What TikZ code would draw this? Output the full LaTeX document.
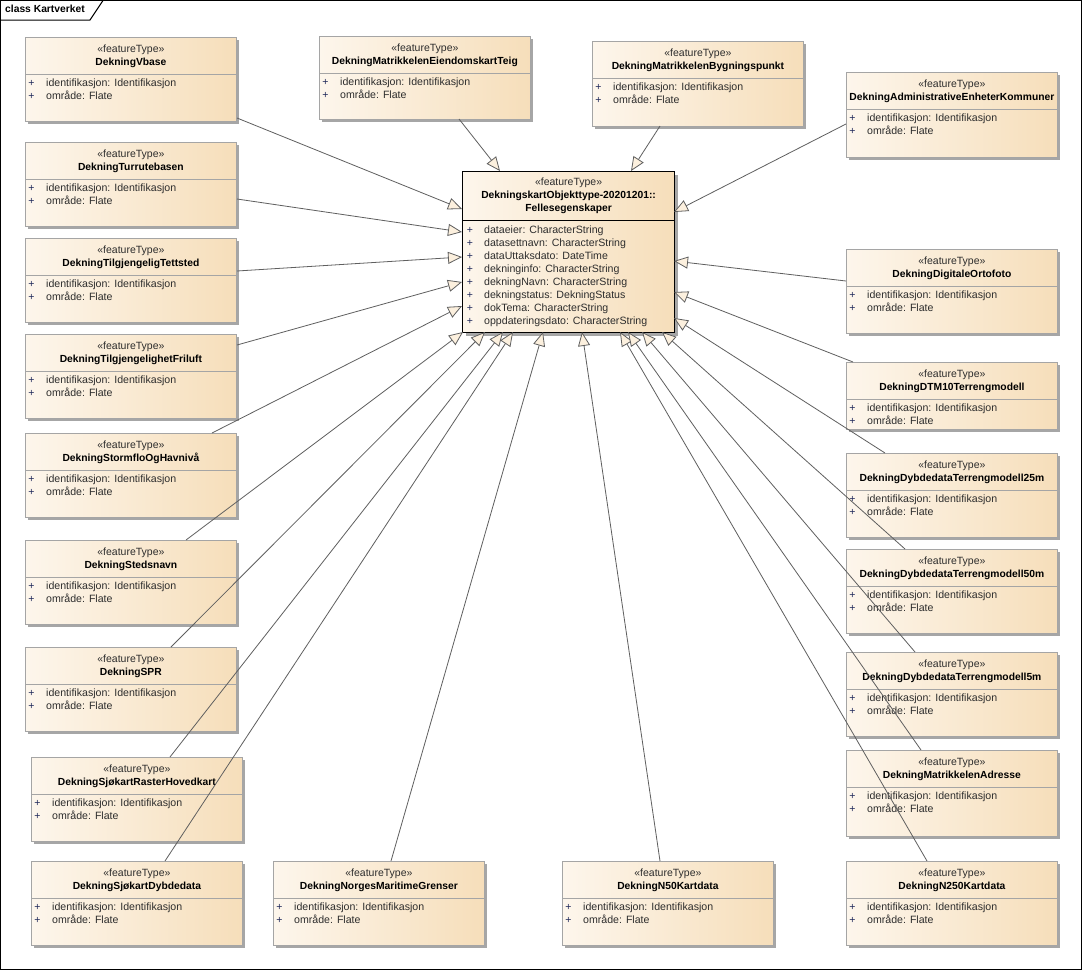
\documentclass[tikz,border=0pt]{standalone}
\usepackage{fontspec}
\setmainfont{Liberation Sans}
\usetikzlibrary{arrows.meta,calc,shadows}
\definecolor{boxL}{RGB}{253,246,236}
\definecolor{boxR}{RGB}{246,222,186}
\definecolor{boxline}{RGB}{165,165,165}
\definecolor{conn}{RGB}{95,95,95}
\definecolor{headfill}{RGB}{252,240,222}
\definecolor{txt}{RGB}{45,45,45}
\definecolor{plus}{RGB}{30,40,90}
\tikzset{
  ftbox/.style={draw=boxline, line width=0.8pt, left color=boxL, right color=boxR,
    anchor=north west, inner sep=0pt, minimum width=211pt,
    drop shadow={shadow xshift=3pt, shadow yshift=-3pt, fill=black!35, opacity=1}},
  corebox/.style={draw=black, line width=1.2pt, left color=boxL, right color=boxR,
    anchor=north west, inner sep=0pt, minimum width=212pt, minimum height=161pt,
    drop shadow={shadow xshift=3pt, shadow yshift=-3pt, fill=black!35, opacity=1}},
  divline/.style={draw=boxline, line width=0.8pt},
  stereo/.style={font=\fontsize{10.5}{12}\selectfont, text=txt, inner sep=0pt, anchor=mid},
  cname/.style={font=\fontsize{10.3}{12}\selectfont\bfseries, text=black, inner sep=0pt, anchor=mid},
  attr/.style={font=\fontsize{10.6}{12}\selectfont, text=txt, inner sep=0pt, anchor=mid west},
  plussign/.style={font=\fontsize{10.5}{12}\selectfont, text=plus, inner sep=0pt, anchor=mid},
  gen/.style={draw=conn, line width=0.8pt,
    -{Triangle[length=14pt,width=12pt,fill=headfill,line width=0.8pt]}},
}
\newcommand\ftb[5]{%
  \node[ftbox, minimum height=#4] (#1) at (#2,#3) {};
  \draw[divline] ($(#1.north west)+(0,37)$) -- ($(#1.north east)+(0,37)$);
  \node[stereo] (#1-s) at ($(#1.north)+(0,13)$) {«featureType»};
  \node[cname] (#1-n) at ($(#1.north)+(0,25.5)$) {#5};
  \node[plussign] (#1-p1) at ($(#1.north west)+(6.5,47)$) {+};
  \node[plussign] (#1-p2) at ($(#1.north west)+(6.5,60)$) {+};
  \node[attr] (#1-a1) at ($(#1.north west)+(21,47)$) {identifikasjon: Identifikasjon};
  \node[attr] (#1-a2) at ($(#1.north west)+(21,60)$) {område: Flate};
}
\begin{document}
\begin{tikzpicture}[x=1pt,y=-1pt]
\useasboundingbox (0,0) rectangle (1082,970);
\fill[white] (0,0) rectangle (1082,970);
\draw[black, line width=1pt] (0.5,0.5) rectangle (1081.5,969.5);
\draw[black, line width=1pt] (0.5,20) -- (90,20) -- (103,0.5);
\node[font=\fontsize{10.3}{12}\selectfont\bfseries, anchor=mid west, inner sep=0pt] (frametitle) at (5,10) {class Kartverket};

% left column
\ftb{vbase}{25}{37}{84}{DekningVbase}
\ftb{turrute}{25}{142}{84}{DekningTurrutebasen}
\ftb{tettsted}{25}{238}{84}{DekningTilgjengeligTettsted}
\ftb{friluft}{25}{334}{84}{DekningTilgjengelighetFriluft}
\ftb{storm}{25}{433}{84}{DekningStormfloOgHavnivå}
\ftb{steds}{25}{540}{84}{DekningStedsnavn}
\ftb{spr}{25}{647}{84}{DekningSPR}
\ftb{raster}{31}{757}{84}{DekningSjøkartRasterHovedkart}
\ftb{dybde}{31}{861}{84}{DekningSjøkartDybdedata}
% bottom row
\ftb{maritime}{273}{861}{84}{DekningNorgesMaritimeGrenser}
\ftb{nfifty}{562}{861}{84}{DekningN50Kartdata}
\ftb{ntwofifty}{846}{861}{84}{DekningN250Kartdata}
% right column
\ftb{admin}{846}{72}{85}{DekningAdministrativeEnheterKommuner}
\ftb{orto}{846}{249}{84}{DekningDigitaleOrtofoto}
\ftb{dtm}{846}{362}{67}{DekningDTM10Terrengmodell}
\ftb{tfive}{846}{453}{84}{DekningDybdedataTerrengmodell25m}
\ftb{ffifty}{846}{549}{84}{DekningDybdedataTerrengmodell50m}
\ftb{ffive}{846}{652}{84}{DekningDybdedataTerrengmodell5m}
\ftb{adresse}{846}{750}{86}{DekningMatrikkelenAdresse}
% top row
\ftb{eiendom}{319}{36}{83}{DekningMatrikkelenEiendomskartTeig}
\ftb{bygning}{592}{41}{85}{DekningMatrikkelenBygningspunkt}

% core class
\node[corebox] (core) at (462,171) {};
\draw[black, line width=1pt] ($(core.north west)+(0,49)$) -- ($(core.north east)+(0,49)$);
\node[stereo] (core-s) at ($(core.north)+(0,12)$) {«featureType»};
\node[cname] (core-n1) at ($(core.north)+(0,25)$) {DekningskartObjekttype-20201201::};
\node[cname] (core-n2) at ($(core.north)+(0,38)$) {Fellesegenskaper};
\foreach \i/\t in {0/{dataeier: CharacterString},1/{datasettnavn: CharacterString},2/{dataUttaksdato: DateTime},3/{dekninginfo: CharacterString},4/{dekningNavn: CharacterString},5/{dekningstatus: DekningStatus},6/{dokTema: CharacterString},7/{oppdateringsdato: CharacterString}}{
  \node[plussign] (core-p\i) at ($(core.north west)+(8,59.7+13*\i)$) {+};
  \node[attr] (core-a\i) at ($(core.north west)+(22,59.7+13*\i)$) {\t};
}

% generalization connectors
\draw[gen] ($(vbase.north west)+(212,81)$) -- ($(core.north west)+(0,38)$);
\draw[gen] ($(turrute.north west)+(212,57)$) -- ($(core.north west)+(0,61)$);
\draw[gen] ($(tettsted.north west)+(212,33)$) -- ($(core.north west)+(0,86)$);
\draw[gen] ($(friluft.north west)+(212,11)$) -- ($(core.north west)+(0,111)$);
\draw[gen] ($(storm.north west)+(187,0)$) -- ($(core.north west)+(0,135)$);
\draw[gen] ($(steds.north west)+(161,0)$) -- ($(core.north west)+(1,161)$);
\draw[gen] ($(spr.north west)+(146,0)$) -- ($(core.north west)+(23,161)$);
\draw[gen] ($(raster.north west)+(139,0)$) -- ($(core.north west)+(41,161)$);
\draw[gen] ($(dybde.north west)+(134,0)$) -- ($(core.north west)+(51,161)$);
\draw[gen] ($(maritime.north west)+(118,0)$) -- ($(core.north west)+(81,161)$);
\draw[gen] ($(nfifty.north west)+(98,0)$) -- ($(core.north west)+(120,161)$);
\draw[gen] ($(ntwofifty.north west)+(81,0)$) -- ($(core.north west)+(158,161)$);
\draw[gen] ($(adresse.north west)+(75,0)$) -- ($(core.north west)+(166,161)$);
\draw[gen] ($(ffive.north west)+(69,0)$) -- ($(core.north west)+(180,161)$);
\draw[gen] ($(ffifty.north west)+(59,0)$) -- ($(core.north west)+(200,161)$);
\draw[gen] ($(tfive.north west)+(39,0)$) -- ($(core.north west)+(212,147)$);
\draw[gen] ($(dtm.north west)+(7,0)$) -- ($(core.north west)+(212,121)$);
\draw[gen] ($(orto.north west)+(0,32)$) -- ($(core.north west)+(212,90)$);
\draw[gen] ($(admin.north west)+(0,52)$) -- ($(core.north west)+(212,41)$);
\draw[gen] ($(bygning.north west)+(68,85)$) -- ($(core.north west)+(169,0)$);
\draw[gen] ($(eiendom.north west)+(140,83)$) -- ($(core.north west)+(38,0)$);
\end{tikzpicture}
\end{document}
